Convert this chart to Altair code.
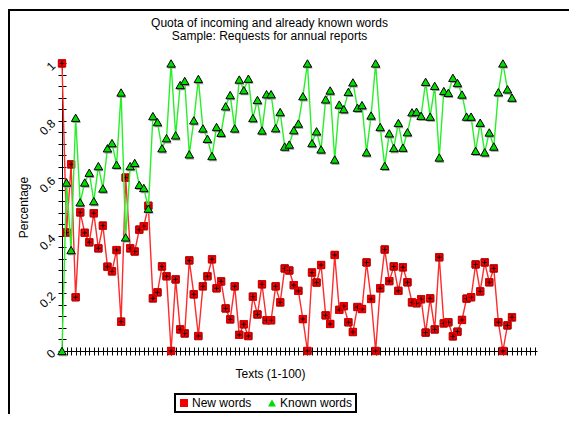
import altair as alt
import pandas as pd

texts = list(range(1, 101))
new_words = [1.0, 0.412, 0.649, 0.187, 0.482, 0.411, 0.378, 0.479, 0.357, 0.436,
             0.293, 0.277, 0.351, 0.102, 0.603, 0.357, 0.346, 0.422, 0.434, 0.505,
             0.183, 0.204, 0.294, 0.26, 0.0, 0.249, 0.075, 0.061, 0.315, 0.197,
             0.052, 0.225, 0.26, 0.319, 0.218, 0.242, 0.148, 0.11, 0.225, 0.056,
             0.093, 0.052, 0.189, 0.127, 0.232, 0.107, 0.107, 0.225, 0.169, 0.287,
             0.28, 0.229, 0.209, 0.111, 0.0, 0.273, 0.238, 0.299, 0.124, 0.094,
             0.334, 0.143, 0.156, 0.1, 0.066, 0.153, 0.146, 0.308, 0.181, 0.0,
             0.218, 0.353, 0.243, 0.294, 0.209, 0.291, 0.239, 0.169, 0.166, 0.18,
             0.064, 0.183, 0.075, 0.326, 0.096, 0.1, 0.051, 0.067, 0.108, 0.182,
             0.187, 0.301, 0.207, 0.308, 0.239, 0.287, 0.1, 0.0, 0.089, 0.117]
known_words = [0.0, 0.586, 0.351, 0.811, 0.517, 0.586, 0.62, 0.521, 0.643, 0.565,
               0.705, 0.723, 0.648, 0.899, 0.395, 0.643, 0.654, 0.578, 0.567, 0.495,
               0.817, 0.796, 0.705, 0.74, 1.0, 0.75, 0.925, 0.939, 0.684, 0.802,
               0.946, 0.774, 0.738, 0.678, 0.779, 0.759, 0.851, 0.89, 0.774, 0.944,
               0.907, 0.947, 0.81, 0.873, 0.767, 0.893, 0.893, 0.775, 0.831, 0.711,
               0.718, 0.768, 0.791, 0.886, 1.0, 0.723, 0.764, 0.701, 0.875, 0.906,
               0.666, 0.857, 0.841, 0.901, 0.934, 0.846, 0.855, 0.691, 0.819, 1.0,
               0.779, 0.644, 0.757, 0.706, 0.793, 0.707, 0.761, 0.83, 0.832, 0.818,
               0.936, 0.815, 0.922, 0.673, 0.904, 0.898, 0.95, 0.932, 0.892, 0.815,
               0.815, 0.696, 0.794, 0.691, 0.76, 0.711, 0.9, 1.0, 0.91, 0.881]
series = ["New words", "Known words"]
x_ticks = list(range(1, 106))
y_ticks = [round(i * 0.04, 2) for i in range(26)]

df = pd.DataFrame({"Text": texts, "new_words": new_words, "known_words": known_words})

W, H = 475, 289
FONT = "Liberation Sans"
RED_LINE = "#ff2a2a"
GREEN_LINE = "#28f028"
RED = "#f20000"
GREEN = "#00dc00"
PLUS_SQUARE = "M-1,-1H1V1H-1Z M-0.65,0H0.65 M0,-0.65V0.65"

xs = alt.Scale(domain=[1, 105.5], nice=False, zero=False)
ys = alt.Scale(domain=[0, 1.005], nice=False, zero=False)

x_axis = alt.Axis(values=x_ticks, labels=False, tickSize=4, tickColor="black",
                  domainColor="black", grid=False, title="Texts (1-100)",
                  titleX=208, titleY=22, titleBaseline="middle", titleAlign="center",
                  titleFontSize=12, titleFontWeight="normal", titleColor="black",
                  titleFont=FONT)
y_axis = alt.Axis(values=y_ticks,
                  labelExpr="(round(datum.value*100) % 20 == 0) ? format(datum.value, '~g') : ''",
                  labelAngle=315, labelAlign="right", labelBaseline="middle",
                  labelPadding=5, labelFontSize=12, labelColor="black", labelFont=FONT,
                  labelOverlap=False, labelFlush=False, labelBound=False,
                  tickSize=4, tickColor="black", domainColor="black", grid=False,
                  title="Percentage", titleX=-39, titleY=145, titleAngle=270,
                  titleAlign="center", titleBaseline="middle", titleFontSize=12,
                  titleFontWeight="normal", titleColor="black", titleFont=FONT)

fill_scale = alt.Scale(domain=series, range=[RED, GREEN])
shape_scale = alt.Scale(domain=series, range=[PLUS_SQUARE, "triangle-up"])
legend = alt.Legend(title=None, orient="none", legendX=113, legendY=332,
                    direction="horizontal", columns=2, strokeColor="black",
                    padding=3, fillColor="white", labelFontSize=12,
                    labelFont=FONT, labelColor="black", symbolSize=64,
                    symbolStrokeColor="black", symbolStrokeWidth=1,
                    labelOffset=2, columnPadding=14, symbolOpacity=1)

base = alt.Chart(df)

red_line = base.mark_line(color=RED_LINE, strokeWidth=1.4).encode(
    x=alt.X("Text:Q", scale=xs, axis=x_axis),
    y=alt.Y("new_words:Q", scale=ys, axis=y_axis),
)
red_pts = base.transform_calculate(series="'New words'").mark_point(
    stroke="black", strokeWidth=0.9, opacity=1, fillOpacity=1
).encode(
    x=alt.X("Text:Q", scale=xs, axis=None),
    y=alt.Y("new_words:Q", scale=ys, axis=None),
    fill=alt.Fill("series:N", scale=fill_scale, legend=legend),
    shape=alt.Shape("series:N", scale=shape_scale, legend=legend),
    size=alt.value(52),
)
red_edge = base.mark_point(filled=False, size=52, shape="square", color=RED,
                           strokeWidth=1, opacity=1).encode(
    x=alt.X("Text:Q", scale=xs, axis=None),
    y=alt.Y("new_words:Q", scale=ys, axis=None),
)
green_line = base.mark_line(color=GREEN_LINE, strokeWidth=1.4).encode(
    x=alt.X("Text:Q", scale=xs, axis=None),
    y=alt.Y("known_words:Q", scale=ys, axis=None),
)
green_shadow = base.mark_point(filled=True, size=72, shape="triangle-up",
                               color="#9a9a9a", opacity=1, xOffset=1, yOffset=1.5).encode(
    x=alt.X("Text:Q", scale=xs, axis=None),
    y=alt.Y("known_words:Q", scale=ys, axis=None),
)
green_pts = base.transform_calculate(series="'Known words'").mark_point(
    stroke="black", strokeWidth=1, opacity=1, fillOpacity=1
).encode(
    x=alt.X("Text:Q", scale=xs, axis=None),
    y=alt.Y("known_words:Q", scale=ys, axis=None),
    fill=alt.Fill("series:N", scale=fill_scale, legend=legend),
    shape=alt.Shape("series:N", scale=shape_scale, legend=legend),
    size=alt.value(72),
)
inner_ticks = base.mark_point(opacity=0).encode(
    x=alt.X("Text:Q", scale=xs,
            axis=alt.Axis(orient="top", offset=-H, values=x_ticks, labels=False,
                          domain=False, tickSize=4, tickColor="black", grid=False,
                          title=None)),
    y=alt.Y("new_words:Q", scale=ys,
            axis=alt.Axis(orient="right", offset=-W, values=y_ticks, labels=False,
                          domain=False, tickSize=4, tickColor="black", grid=False,
                          title=None)),
)

one = alt.Data(values=[{"a": 1}])
frame_top = alt.Chart(one).mark_rule(color="black", strokeWidth=2).encode(
    x=alt.value(-54), x2=alt.value(510), y=alt.value(-52))
frame_left = alt.Chart(one).mark_rule(color="black", strokeWidth=2).encode(
    x=alt.value(-53), y=alt.value(-53), y2=alt.value(360))

chart = alt.layer(
    frame_top, frame_left, red_line, red_pts, red_edge, green_line, green_shadow,
    green_pts, inner_ticks
).resolve_axis(x="independent", y="independent").properties(
    width=W, height=H,
    autosize=alt.AutoSizeParams(type="none"),
    padding={"left": 54, "top": 54, "right": 32, "bottom": 63},
    title=alt.TitleParams(text=["Quota of incoming and already known words",
                                "Sample: Requests for annual reports"],
                          fontSize=12, fontWeight="normal", font=FONT, color="black",
                          anchor="middle", dx=-30, offset=-35, lineHeight=13),
    background="white",
).configure_view(stroke=None).configure_legend(strokeWidth=2)

chart.save("out.html", embed_options={"renderer": "svg", "actions": False})
